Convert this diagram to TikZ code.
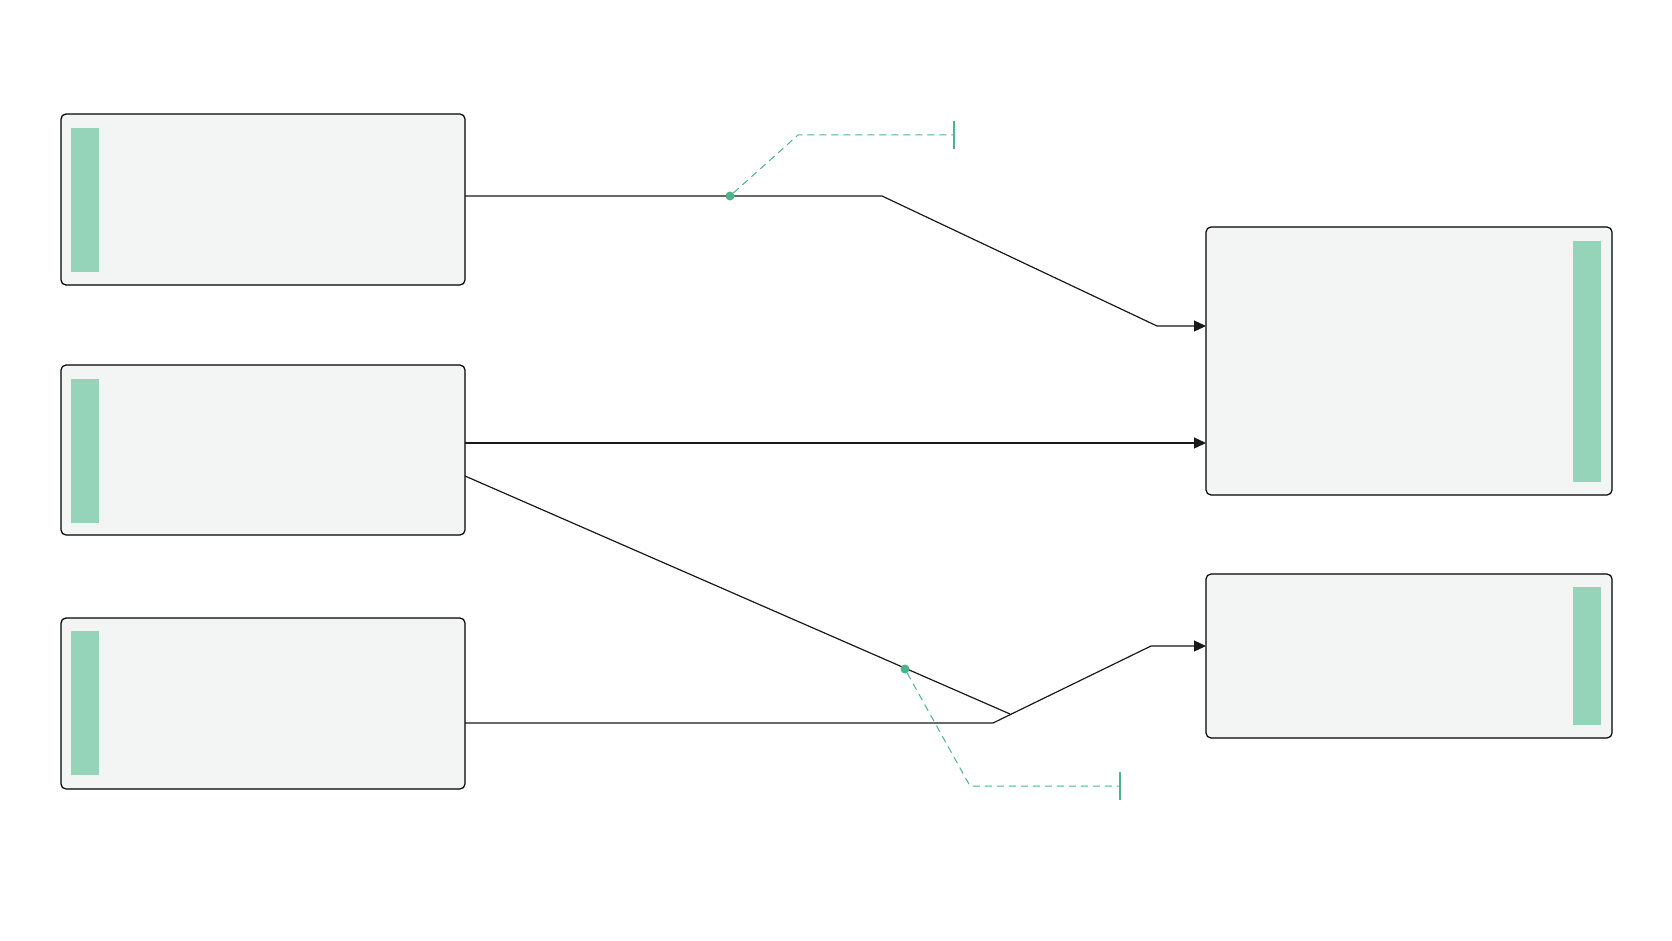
\documentclass[tikz,border=0pt]{standalone}
\usetikzlibrary{arrows.meta}
\definecolor{boxfill}{HTML}{F3F5F4}
\definecolor{bar}{HTML}{96D4BA}
\definecolor{acc}{HTML}{4DB38A}
\begin{document}
\begin{tikzpicture}[x=1pt,y=-1pt,
  box/.style={draw=black,line width=1.2pt,fill=boxfill,rounded corners=5pt},
  barst/.style={fill=bar,draw=none},
  conn/.style={line width=1.2pt,draw=black!90},
  arr/.style={conn,-{Triangle[length=12pt,width=11pt]}},
  lead/.style={acc,line width=1pt,dash pattern=on 7pt off 5pt},
  dot/.style={circle,fill=acc,inner sep=0pt,minimum size=9pt}]
\useasboundingbox (0,0) rectangle (1672,941);
\fill[white] (0,0) rectangle (1672,941);
\draw[box] (61,114) rectangle (465,285); \fill[barst] (71,128) rectangle (99,272);
\draw[box] (61,365) rectangle (465,535); \fill[barst] (71,379) rectangle (99,523);
\draw[box] (61,618) rectangle (465,789); \fill[barst] (71,631) rectangle (99,775);
\draw[box] (1206,227) rectangle (1612,495); \fill[barst] (1573,241) rectangle (1601,482);
\draw[box] (1206,574) rectangle (1612,738); \fill[barst] (1573,587) rectangle (1601,725);
\coordinate (s1) at (465,196); \coordinate (b1) at (882,196); \coordinate (b2) at (1157,326); \coordinate (t1) at (1206,326);
\coordinate (s2) at (465,443); \coordinate (t2) at (1206,443);
\coordinate (s3) at (465,476); \coordinate (e3) at (1010,714);
\coordinate (s4) at (465,723); \coordinate (c1) at (993,723); \coordinate (c2) at (1151,646); \coordinate (t4) at (1206,646);
\draw[arr] (s1) -- (b1) -- (b2) -- (t1);
\draw[arr] (s2) -- (t2);
\draw[conn] (s3) -- (e3);
\draw[arr] (s4) -- (c1) -- (c2) -- (t4);
\node[dot] (d1) at (730,196) {};
\coordinate (k1) at (798,135); \coordinate (m1) at (954,135);
\draw[lead] (d1) -- (k1) -- (m1);
\draw[acc,line width=1.2pt] (954,121) -- (954,149);
\node[dot] (d2) at (905,669) {};
\coordinate (k2) at (970,786); \coordinate (m2) at (1120,786);
\draw[lead] (d2) -- (k2) -- (m2);
\draw[acc,line width=1.2pt] (1120,772) -- (1120,800);
\end{tikzpicture}
\end{document}
